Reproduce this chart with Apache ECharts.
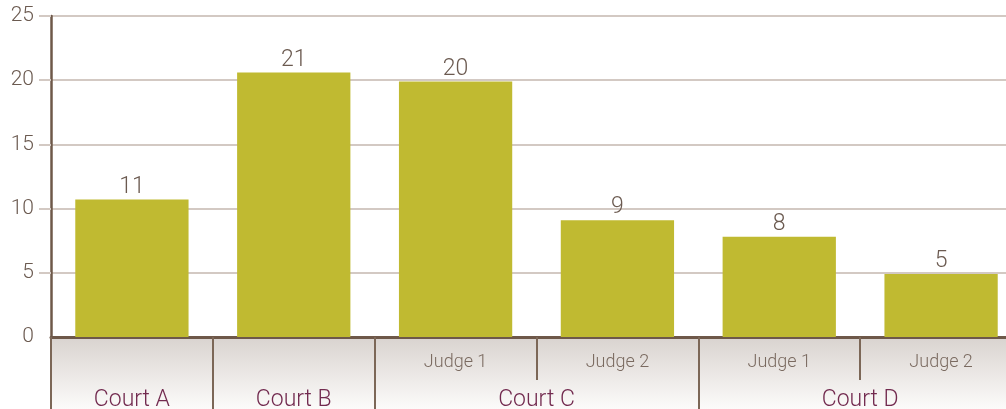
<!DOCTYPE html>
<html>
<head>
<meta charset="utf-8">
<script src="https://cdn.jsdelivr.net/npm/echarts@6/dist/echarts.min.js"></script>
<style>
  html, body { margin: 0; padding: 0; background: #fff; overflow: hidden; }
  /* plot runs past the right edge of the window, like the original */
  #chart { width: 1022px; height: 409px; }
</style>
</head>
<body>
<div id="chart"></div>
<script>
// one entry per bar
const judges = ['', '', 'Judge 1', 'Judge 2', 'Judge 1', 'Judge 2']
const courts = ['Court A', 'Court B', 'Court C', 'Court C', 'Court D', 'Court D']
const values = [10.7, 20.6, 19.9, 9.1, 7.8, 4.9]
const yTicks = [0, 5, 10, 15, 20, 25]

const brown = '#6e5849'
const gridColor = '#d3c9c3'
const font = 'Roboto, "Liberation Sans", sans-serif'

// court axis: half-step slots so a label can sit in the middle of a group
const courtSlots = new Array(courts.length * 2 + 1).fill('')
const courtEdges = [0]
let start = 0
for (let i = 1; i <= courts.length; i++) {
  if (i === courts.length || courts[i] !== courts[start]) {
    courtSlots[start + i] = courts[start]
    courtEdges.push(i * 2)
    start = i
  }
}

const chart = echarts.init(document.getElementById('chart'))
chart.setOption({
  animation: false,
  grid: { left: 51, top: 16, bottom: 72, right: 0, outerBoundsMode: 'none' },
  graphic: [{
    type: 'rect',
    left: 51, top: 337, z: -10,
    shape: { width: 980, height: 72 },
    style: {
      fill: new echarts.graphic.LinearGradient(0, 0, 0, 1, [
        { offset: 0, color: '#d9d3cf' },
        { offset: 1, color: '#fcfbfa' }
      ])
    }
  }],
  xAxis: [{
    type: 'category',
    data: judges,
    axisLine: { lineStyle: { color: brown, width: 3 } },
    axisTick: { show: true, length: 43, lineStyle: { color: '#7c6757', width: 2 } },
    axisLabel: { interval: 0, margin: 16, color: '#7a6a60', fontSize: 18, fontFamily: font, fontWeight: 300 },
    splitLine: { show: false }
  }, {
    type: 'category',
    boundaryGap: false,
    data: courtSlots,
    position: 'bottom',
    axisLine: { show: false },
    axisTick: {
      show: true, length: 72,
      interval: (i) => courtEdges.includes(i),
      lineStyle: { color: '#7c6757', width: 2 }
    },
    axisLabel: { interval: 0, margin: 52, color: '#722a4f', fontSize: 23, fontFamily: font, fontWeight: 300 }
  }],
  yAxis: {
    type: 'value',
    min: 0, max: 25, interval: 5,
    axisLine: { show: true, lineStyle: { color: brown, width: 2.5 } },
    axisTick: { show: true, length: 12, customValues: yTicks.slice(1), lineStyle: { color: gridColor, width: 2 } },
    axisLabel: { margin: 17, color: '#6b5a50', fontSize: 21, fontFamily: font, fontWeight: 300 },
    splitLine: { lineStyle: { color: gridColor, width: 2 } }
  },
  series: [{
    type: 'bar',
    data: values,
    barWidth: '70%',
    itemStyle: { color: '#c0ba31' },
    label: {
      show: true, position: 'top', distance: 1,
      formatter: (p) => Math.round(p.value),
      color: '#6b5a50', fontSize: 23, fontFamily: font, fontWeight: 300
    }
  }]
})
</script>
</body>
</html>
